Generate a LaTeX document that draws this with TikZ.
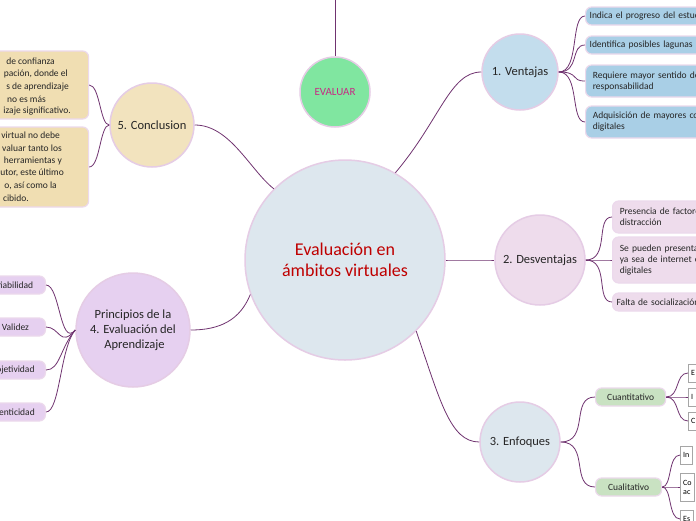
\documentclass[tikz,border=0pt]{standalone}
\usepackage{fontspec}
\setmainfont{Carlito}
\begin{document}
\begin{tikzpicture}[x=1pt,y=-1pt,
  conn/.style={draw=violet!60!black!80, line width=0.8pt},
  circ/.style={circle, draw=white!80!violet, line width=1.5pt, align=center, text=black!85, inner sep=0pt},
  bx/.style={rounded corners=6pt, draw=white!85!violet, line width=1.2pt, align=left, text=black!85, font=\fontsize{9.5}{11}\selectfont, inner sep=4pt, anchor=west},
  sbx/.style={draw=black!35, fill=white, font=\fontsize{8}{9}\selectfont, align=left, anchor=west, inner sep=3pt, minimum height=18pt},
  frag/.style={font=\fontsize{9.5}{11}\selectfont, text=black!85, inner sep=0pt, anchor=east}]
\useasboundingbox (0,0) rectangle (696,520);
\clip (0,0) rectangle (696,520);
\fill[white] (0,0) rectangle (696,520);
\definecolor{vb}{HTML}{A9CFE6}
\definecolor{pk}{HTML}{EEDCEC}
\definecolor{gr}{HTML}{C9E2C2}
\definecolor{bg}{HTML}{F0DEB2}
\definecolor{lv}{HTML}{E6D0F0}
\definecolor{cb}{HTML}{DDE7EE}
\definecolor{eg}{HTML}{80E6A0}

% main circles
\node[circ, minimum size=200pt, fill=cb, text=red!75!black, font=\fontsize{18}{21}\selectfont] (c) at (345,260) {Evaluación en\\ámbitos virtuales};
\node[circ, minimum size=70pt, fill=eg, text=magenta!80!black, font=\fontsize{11}{13}\selectfont] (ev) at (335,92) {EVALUAR};
\coordinate (top) at (335,0);
\draw[conn] (top) -- (ev.north);
\node[circ, minimum size=76pt, fill=vb!70!white, font=\fontsize{12.5}{14}\selectfont] (v) at (520,72) {1. Ventajas};
\node[circ, minimum size=90pt, fill=pk, font=\fontsize{12.5}{14}\selectfont] (d) at (540,260) {2. Desventajas};
\node[circ, minimum size=80pt, fill=cb, font=\fontsize{12.5}{14}\selectfont] (e) at (520,442) {3. Enfoques};
\node[circ, minimum size=84pt, fill=bg!85!white, font=\fontsize{12.5}{14}\selectfont] (co) at (152,125) {5. Conclusion};
\node[circ, minimum size=114pt, fill=lv, font=\fontsize{12.5}{15}\selectfont] (p) at (133,330) {Principios de la\\4. Evaluación del\\\ Aprendizaje};

% center connectors
\draw[conn] (c.60) .. controls (440,120) and (450,72) .. (v.west);
\draw[conn] (c.east) .. controls (465,260) .. (d.west);
\draw[conn] (c.-45) .. controls (440,400) and (450,442) .. (e.west);
\draw[conn] (c.135) .. controls (250,170) and (230,125) .. (co.east);
\draw[conn] (c.200) .. controls (240,320) and (220,330) .. (p.east);

% ventajas children
\node[bx, fill=vb, minimum height=18pt, text width=220pt] (v1) at (585,16) {Indica el progreso del estudiante};
\node[bx, fill=vb, minimum height=18pt, text width=220pt] (v2) at (585,45) {Identifica posibles lagunas};
\node[bx, fill=vb, minimum height=32pt, text width=220pt] (v3) at (585,81) {\ Requiere mayor sentido de\\\ responsabilidad};
\node[bx, fill=vb, minimum height=32pt, text width=220pt] (v4) at (585,122) {\ Adquisición de mayores competencias\\\ digitales};
\foreach \n in {v1,v2,v3,v4} \draw[conn] (v.east) .. controls (580,72) and (570,0 |- \n.west) .. (\n.west);

% desventajas children
\node[bx, fill=pk, minimum height=32pt, text width=220pt] (d1) at (612,217) {\ Presencia de factores de\\\ distracción};
\node[bx, fill=pk, minimum height=46pt, text width=220pt] (d2) at (612,260) {\ Se pueden presentar fallas\\\ ya sea de internet o herramientas\\\ digitales};
\node[bx, fill=pk, minimum height=18pt, text width=220pt] (d3) at (612,302) {Falta de socialización};
\foreach \n in {d1,d2,d3} \draw[conn] (d.east) .. controls (610,260) and (595,0 |- \n.west) .. (\n.west);

% enfoques children
\node[bx, fill=gr, minimum height=18pt, minimum width=70pt, align=center] (e1) at (595,397) {Cuantitativo};
\node[bx, fill=gr, minimum height=18pt, minimum width=66pt, align=center] (e2) at (595,487) {Cualitativo};
\foreach \n in {e1,e2} \draw[conn] (e.east) .. controls (590,442) and (570,0 |- \n.west) .. (\n.west);
\node[sbx] (q1) at (688,373) {E};
\node[sbx] (q2) at (688,397) {I};
\node[sbx] (q3) at (688,421) {C};
\foreach \n in {q1,q2,q3} \draw[conn] (e1.east) .. controls (680,397) and (675,0 |- \n.west) .. (\n.west);
\node[sbx] (l1) at (680,455) {In};
\node[sbx, minimum height=28pt] (l2) at (680,487) {Co\\ac};
\node[sbx] (l3) at (680,519) {Es};
\foreach \n in {l1,l2,l3} \draw[conn] (e2.east) .. controls (672,487) and (668,0 |- \n.west) .. (\n.west);

% conclusion children
\node[bx, fill=bg, minimum height=68pt, minimum width=100pt] (k1) at (-12,85) {};
\node[bx, fill=bg, minimum height=80pt, minimum width=100pt] (k2) at (-12,167) {};
\foreach \n in {k1,k2} \draw[conn] (co.west) .. controls (100,125) and (100,0 |- \n.east) .. (\n.east);
\node[frag] at (55,61) {de confianza};
\node[frag] at (68,74) {pación, donde el};
\node[frag] at (69,87) {s de aprendizaje};
\node[frag] at (46,99) {no es más};
\node[frag] at (71,111) {izaje significativo.};
\node[frag] at (60,135) {virtual no debe};
\node[frag] at (62,148) {valuar tanto los};
\node[frag] at (62,161) {herramientas y};
\node[frag] at (64,173) {utor, este último};
\node[frag] at (57,186) {o, así como la};
\node[frag] at (29,198) {cibido.};

% principios children
\foreach \y/\t/\nm in {285/fiabilidad/p1,327/Validez/p2,370/ojetividad/p3,412/tenticidad/p4}{
  \node[bx, fill=lv, minimum height=18pt, minimum width=60pt, anchor=east, align=right] (\nm) at (46,\y) {\t};
  \draw[conn] (p.west) .. controls (60,348) and (60,\y) .. (\nm.east);
}
\end{tikzpicture}
\end{document}
